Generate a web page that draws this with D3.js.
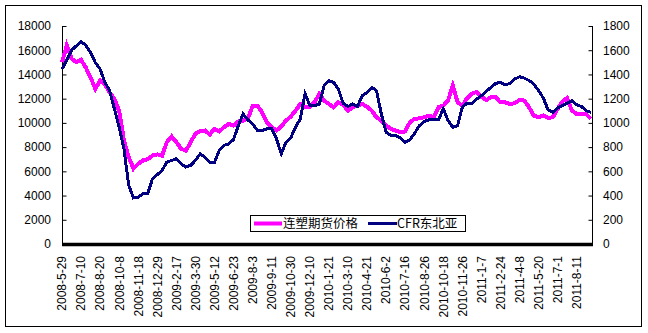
<!DOCTYPE html>
<html><head><meta charset="utf-8">
<script src="https://cdn.jsdelivr.net/npm/d3@7"></script>
<style>body{margin:0;background:#fff}svg{display:block}</style>
</head><body>
<svg id="c" width="648" height="333"></svg>
<script>
const tickLabels = ["2008-5-29","2008-7-10","2008-8-20","2008-10-8","2008-11-18","2008-12-29","2009-2-17","2009-3-30","2009-5-12","2009-6-23","2009-8-3","2009-9-11","2009-10-30","2009-12-10","2010-1-21","2010-3-10","2010-4-21","2010-6-2","2010-7-16","2010-8-26","2010-10-18","2010-11-26","2011-1-7","2011-2-24","2011-4-8","2011-5-20","2011-7-1","2011-8-11"];
const seriesNames = ["连塑期货价格","CFR东北亚"];
const futures = [15000,16400,15300,15000,15200,14570,13750,12800,13500,13200,12500,11970,11000,8550,7175,6220,6630,6900,7000,7310,7400,7300,8410,8880,8410,7865,7700,8400,9100,9310,9370,9040,9510,9310,9640,9920,9780,10110,10190,10330,11400,11420,10870,10050,9640,9370,9700,10190,10520,11010,11560,11290,11340,11700,12390,11840,11560,11290,11700,11480,11010,11290,11420,11560,11340,11010,10460,10190,9780,9510,9370,9230,9300,10050,10330,10380,10460,10600,10460,11290,11420,11840,13070,11700,11420,12050,12390,12570,12160,11890,12100,12100,11700,11700,11560,11630,11890,11840,11290,10600,10460,10600,10410,10460,11150,11780,12050,11010,10740,10740,10700,10330];
const cfr = [1444,1520,1600,1636,1670,1640,1580,1498,1444,1334,1266,1115,964,786,485,380,385,417,420,540,573,608,676,690,704,660,635,650,690,745,717,676,676,772,814,827,863,978,1074,1025,992,937,937,951,951,869,745,841,877,964,1033,1240,1142,1142,1156,1307,1348,1334,1280,1162,1135,1156,1135,1225,1252,1293,1266,1074,923,896,896,877,841,860,915,978,1011,1025,1030,1025,1115,1020,964,978,1129,1164,1162,1197,1225,1260,1293,1326,1334,1313,1326,1362,1381,1370,1350,1320,1266,1205,1107,1087,1122,1142,1162,1184,1150,1135,1101,1087];
const leftTicks = [0,2000,4000,6000,8000,10000,12000,14000,16000,18000];
const rightTicks = [0,200,400,600,800,1000,1200,1400,1600,1800];
const labelEvery = 4;

const svg = d3.select("#c");
const x0 = 62, x1 = 591, yTop = 26, yBot = 244;
const font = "'Liberation Sans', Arial, sans-serif";

svg.append("rect").attr("x",5.5).attr("y",5.5).attr("width",636).attr("height",321)
  .attr("fill","#fff").attr("stroke","#000").attr("stroke-width",1);

const n = futures.length;
const x = d3.scaleLinear().domain([0, n-1]).range([x0, x1]);
const yL = d3.scaleLinear().domain([0,18000]).range([yBot, yTop]);
const yR = d3.scaleLinear().domain([0,1800]).range([yBot, yTop]);

const gL = svg.append("g").attr("transform",`translate(${x0+0.5},0)`)
  .call(d3.axisRight(yL).tickValues(leftTicks).tickSize(4).tickFormat(""));
gL.select(".domain").attr("d",`M0,${yTop}V${yBot}`).attr("stroke","#000");
gL.selectAll(".tick line").attr("stroke","#000");
svg.append("g").selectAll("text").data(leftTicks).join("text")
  .attr("x",51).attr("y",d=>yL(d)).attr("dy","0.36em")
  .attr("text-anchor","end").attr("font-family",font).attr("font-size",12)
  .text(d=>d);

const gR = svg.append("g").attr("transform",`translate(${592.5},0)`)
  .call(d3.axisLeft(yR).tickValues(rightTicks).tickSize(4).tickFormat(""));
gR.select(".domain").attr("d",`M0,${yTop}V${yBot}`).attr("stroke","#000");
gR.selectAll(".tick line").attr("stroke","#000");
svg.append("g").selectAll("text").data(rightTicks).join("text")
  .attr("x",603).attr("y",d=>yR(d)).attr("dy","0.36em")
  .attr("text-anchor","start").attr("font-family",font).attr("font-size",12)
  .text(d=>d);

const lineL = d3.line().x((d,i)=>x(i)).y(d=>yL(d));
const lineR = d3.line().x((d,i)=>x(i)).y(d=>yR(d));
svg.append("path").datum(futures).attr("d",lineL).attr("fill","none")
  .attr("stroke","#FF00FF").attr("stroke-width",4).attr("shape-rendering","crispEdges");
svg.append("path").datum(cfr).attr("d",lineR).attr("fill","none")
  .attr("stroke","#000080").attr("stroke-width",3).attr("shape-rendering","crispEdges");

svg.append("line").attr("x1",x0).attr("x2",593).attr("y1",244.5).attr("y2",244.5)
  .attr("stroke","#000").attr("stroke-width",3.5);

svg.append("g").selectAll("text").data(tickLabels).join("text")
  .attr("transform",(d,i)=>`translate(${x(i*labelEvery)},256) rotate(-90)`)
  .attr("dy","0.36em").attr("text-anchor","end")
  .attr("font-family",font).attr("font-size",12).text(d=>d);

const lg = svg.append("g");
lg.append("rect").attr("x",250.5).attr("y",215.5).attr("width",215).attr("height",16)
  .attr("fill","#fff").attr("stroke","#000").attr("stroke-width",1);
lg.append("line").attr("x1",254).attr("x2",282).attr("y1",223.5).attr("y2",223.5)
  .attr("stroke","#FF00FF").attr("stroke-width",4);
lg.append("text").attr("x",283).attr("y",223.5).attr("dy","0.36em")
  .attr("font-family","'Noto Sans CJK SC', sans-serif").attr("font-size",12.5).text(seriesNames[0]);
lg.append("line").attr("x1",368).attr("x2",397).attr("y1",223.5).attr("y2",223.5)
  .attr("stroke","#000080").attr("stroke-width",3);
lg.append("text").attr("x",397).attr("y",223.5).attr("dy","0.36em")
  .attr("font-family","'Noto Sans CJK SC', sans-serif").attr("font-size",12.5).text(seriesNames[1]);
</script>
</body></html>
